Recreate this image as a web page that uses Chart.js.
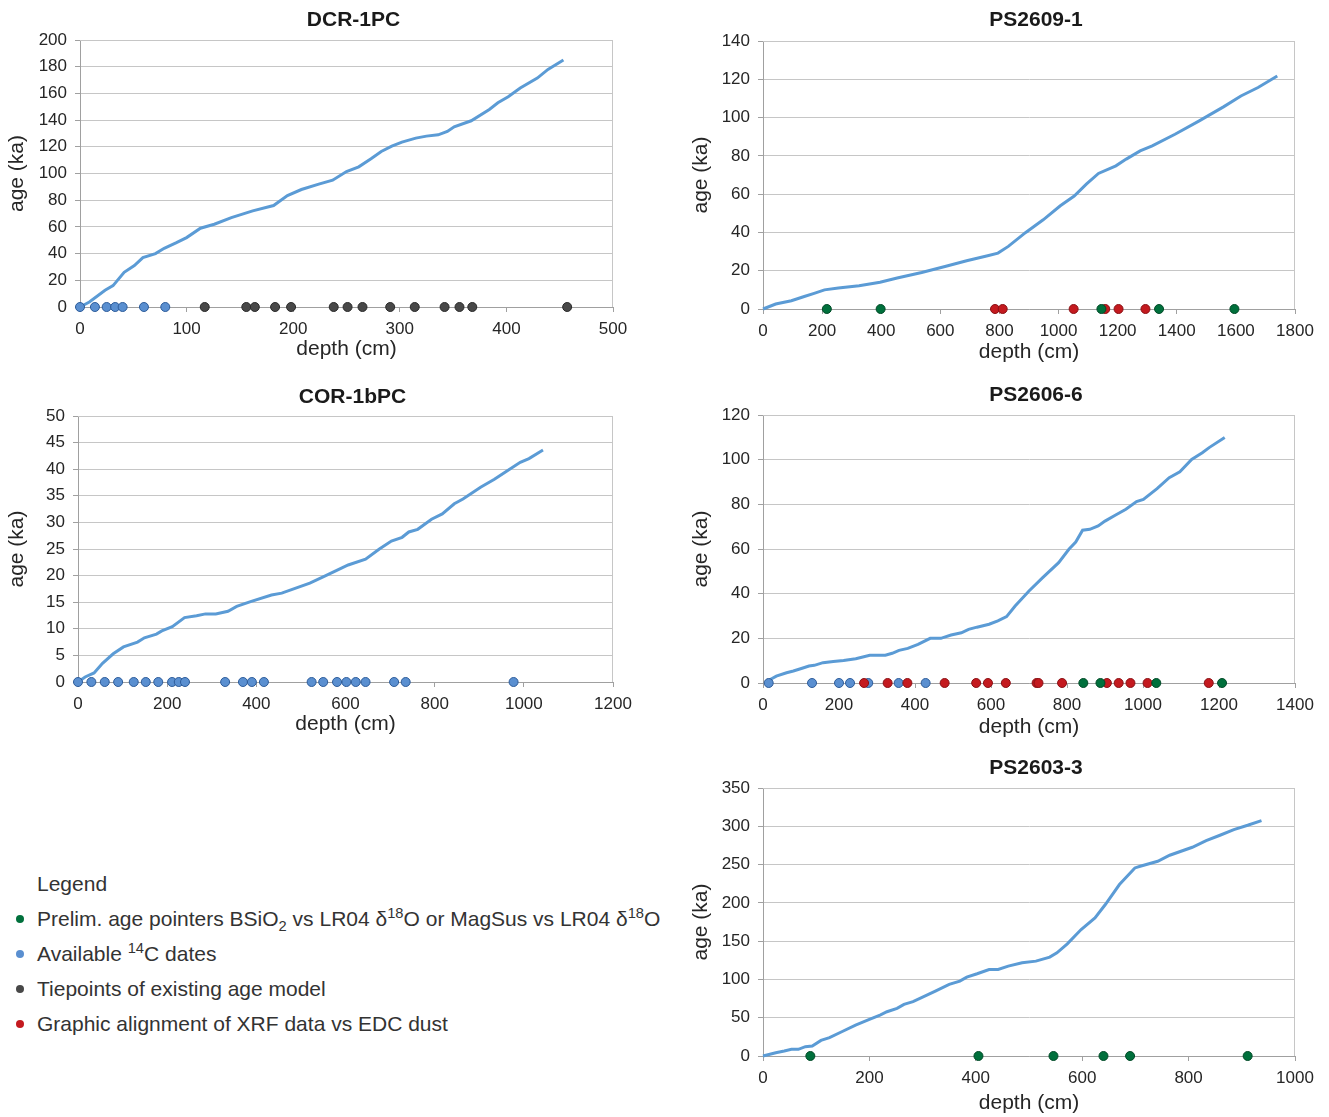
<!DOCTYPE html>
<html>
<head>
<meta charset="utf-8">
<script src="https://cdn.jsdelivr.net/npm/chart.js@4/dist/chart.umd.min.js"></script>
<style>
html,body{margin:0;padding:0;background:#fff;overflow:hidden;width:1329px;height:1117px;}
canvas{position:absolute;}
.lg{position:absolute;font-family:"Liberation Sans",Arial,sans-serif;font-size:21px;line-height:24px;color:#333;white-space:nowrap;}
.lg sub,.lg sup{font-size:0.7em;line-height:0;}
.dot{position:absolute;width:8px;height:8px;border-radius:50%;}
</style>
</head>
<body>
<canvas id="c1"></canvas>
<canvas id="c2"></canvas>
<canvas id="c3"></canvas>
<canvas id="c4"></canvas>
<canvas id="c5"></canvas>

<div class="lg" style="left:37px;top:872px;">Legend</div>
<div class="dot" style="left:16px;top:915px;background:#00703c;"></div>
<div class="lg" style="left:37px;top:907px;">Prelim. age pointers BSiO<sub>2</sub> vs LR04 δ<sup>18</sup>O or MagSus vs LR04 δ<sup>18</sup>O</div>
<div class="dot" style="left:16px;top:950px;background:#5a8fd0;"></div>
<div class="lg" style="left:37px;top:942px;">Available <sup>14</sup>C dates</div>
<div class="dot" style="left:16px;top:985px;background:#484848;"></div>
<div class="lg" style="left:37px;top:977px;">Tiepoints of existing age model</div>
<div class="dot" style="left:16px;top:1020px;background:#c41a1f;"></div>
<div class="lg" style="left:37px;top:1012px;">Graphic alignment of XRF data vs EDC dust</div>

<script>
// ---------- DATA ----------
// DCR-1PC
const dcrDepth = [0,8.8,23.5,31,41.4,51,59,70.8,79,90,100,113,126,142,162,181.6,194.6,207.7,224,237,250,261.5,273,282.6,292.5,302,315,325,336,344.6,351,367,384,392,401.7,413,429,439,453.5];
const dcrAge   = [0,3.7,12.5,16,26,31,37,40,44,48,52,59,62,67,72,76,83.5,88,92,95,101.5,105,111,116.5,120.5,123.5,126.5,128,129,131.5,135,139.5,148,153,157.5,164,171.5,178,185];
const dcrC14   = [0,14,25,33,40,60,80];
const dcrTie   = [117,156,164,183,198,238,251,265,291,314,342,356,368,457];

// PS2609-1
const ps2609Depth = [0,43,96,137,173,208,255,325,396,454,537,619,689,760,795,830,889,948,1006,1053,1094,1135,1194,1229,1276,1317,1394,1476,1511,1558,1617,1675,1740];
const ps2609Age   = [0,2.6,4.3,6.4,8.2,10,11,12.2,14,16.2,19.1,22.3,25.2,27.8,29.2,32.7,40,46.6,53.9,59,65.2,70.8,74.8,78.3,82.6,85.2,91.3,98.3,101.4,105.6,111.3,115.7,121.7];
const ps2609Green = [216,398,1145,1340,1595];
const ps2609Red   = [785,811,1051,1158,1203,1294];

// COR-1bPC
const corDepth = [0,16,36,55,79,102,133.5,149,176,188,211.5,239,266,286,309,336.5,356,387,434,457,520,551,578,606,645,676,703,727,742,762,793,817,844,863.5,903,934,957,992,1011.5,1043];
const corAge   = [0,0.94,1.7,3.5,5.3,6.6,7.5,8.3,9,9.6,10.4,12.1,12.45,12.8,12.8,13.3,14.2,15.1,16.35,16.7,18.6,19.8,20.9,22,23.1,25,26.5,27.2,28.2,28.7,30.6,31.6,33.5,34.4,36.6,38.1,39.4,41.3,42,43.6];
const corC14   = [0,30,60,90,125,152,180,211,226,240,330,370,390,417,524,550,581,602,623,645,709,735,977];

// PS2606-6
const ps2606Depth = [12,35,62,80,103,121,135,158,185,212,244,281,322,340,358,381,408,440,468,495,522,541,563,595,618,641,663.5,700,736,778,805,823,841,860,882,900,928,955,983,1001,1037,1069,1097,1128,1156,1174,1215];
const ps2606Age   = [0.9,3.1,4.6,5.4,6.6,7.6,7.9,9.1,9.6,10.1,10.9,12.4,12.4,13.3,14.6,15.5,17.3,20,20,21.5,22.5,24,25,26.3,27.8,29.7,34.5,41.2,47.2,53.9,59.9,63.1,68.4,68.8,70.3,72.5,75.2,77.8,81.2,82.2,87,91.9,94.6,100.1,103.1,105.4,109.9];
const ps2606C14   = [15,129,200,229,277,357,428];
const ps2606Red   = [266,328,380,478,561,592,639,720,725,787,905,936,967,1012,1173];
const ps2606Green = [843,888,1035,1208];

// PS2603-3
const ps2603Depth = [0,24,40,53.5,66.5,79.6,92.6,109,125,148,174,200,220,233,252,265,282,298,324,350,370,383,402.5,425,442,461,487,513,539,552.5,572,598,624,643.5,670,699,709,742,764.5,807,833,859,885,911,937];
const ps2603Age   = [0,4.3,6.5,8.7,8.7,12.2,13,20.4,23.9,31.7,40.4,47.8,53.5,57.8,62.2,67.4,70.9,76.1,84.8,93.5,97.8,103,107.4,113,113,117.4,121.7,123.9,129.1,134.8,146.5,165.2,180.4,197.8,223.9,245.6,247.8,254.3,262.2,272.6,281.3,288.3,295.7,301.3,307.4];
const ps2603Green = [89,405,546,640,690,911];

// ---------- STYLE ----------
const FONT = '"Liberation Sans", Arial, sans-serif';
const TXT = '#262626';
const GRID = '#c6c6c6';
const AXIS = '#a0a0a0';
const LINE = '#5b9bd5';
const TITLE_SIZE = 21, AXT_SIZE = 21, TICK_SIZE = 17, LH = 1.2;
const HALF = TITLE_SIZE * LH / 2;
const TITLE_SHIFT = 7;
const MARK = {
  blue:  {bg:'#5a8fd0', bd:'#2d5c9a'},
  gray:  {bg:'#484848', bd:'#2a2a2a'},
  red:   {bg:'#c41a1f', bd:'#8a1014'},
  green: {bg:'#00703c', bd:'#004a27'}
};

const frameBorder = {
  id:'frameBorder',
  afterLayout(chart){
    const t = chart.titleBlock;
    if (t) { t.left += TITLE_SHIFT; t.right += TITLE_SHIFT; }
  },
  beforeDatasetsDraw(chart){
    const a = chart.chartArea, ctx = chart.ctx;
    ctx.save();
    ctx.strokeStyle = GRID; ctx.lineWidth = 1;
    const r = Math.round(a.right) - 0.5, t = Math.round(a.top) + 0.5;
    ctx.beginPath();
    ctx.moveTo(Math.round(a.left), t); ctx.lineTo(r, t);
    ctx.lineTo(r, Math.round(a.bottom));
    ctx.stroke();
    ctx.restore();
  }
};

function pts(depths){ return depths.map(d => ({x:d, y:0})); }
function curve(depths, ages){ return depths.map((d,i) => ({x:d, y:ages[i]})); }
function markerSet(depths, col){
  return {data:pts(depths), pointRadius:4.5, pointHoverRadius:4.5, pointBackgroundColor:col.bg,
          pointBorderColor:col.bd, pointBorderWidth:1, showLine:false, clip:false};
}
function lineSet(depths, ages){
  return {data:curve(depths, ages), showLine:true, borderColor:LINE, borderWidth:3,
          pointRadius:0, tension:0, clip:false};
}

function makeChart(id, box, title, xMax, xStep, yMax, yStep, datasets){
  const left = Math.round(box.yTitleCX - HALF - 3);
  const top = Math.round(box.titleCY - HALF - 3);
  const bottom = Math.round(box.xTitleCY + HALF + 2);
  const padR = 30;
  const width = box.R + padR - left;
  const height = bottom - top;
  const cv = document.getElementById(id);
  cv.style.left = left + 'px'; cv.style.top = top + 'px';
  cv.width = width; cv.height = height;
  const titlePadTop = box.titleCY - HALF - top;
  const titlePadBottom = box.T - top - titlePadTop - 2 * HALF;
  new Chart(cv, {
    type:'scatter',
    data:{datasets},
    plugins:[frameBorder],
    options:{
      responsive:false, animation:false, events:[],
      layout:{padding:{left:0, right:padR, top:0, bottom:0}},
      plugins:{
        legend:{display:false}, tooltip:{enabled:false},
        title:{display:true, text:title, fullSize:false, color:'#1a1a1a',
               font:{family:FONT, size:TITLE_SIZE, weight:'bold', lineHeight:LH},
               padding:{top:titlePadTop, bottom:titlePadBottom}}
      },
      scales:{
        x:{type:'linear', min:0, max:xMax,
           afterFit(s){ s.height = bottom - box.B; },
           ticks:{stepSize:xStep, color:TXT, font:{family:FONT, size:TICK_SIZE}, padding:7,
                  maxRotation:0, callback:v => String(v)},
           grid:{drawOnChartArea:false, drawTicks:true, tickLength:5, tickColor:AXIS},
           border:{color:AXIS, width:1},
           title:{display:true, text:'depth (cm)', color:TXT,
                  font:{family:FONT, size:AXT_SIZE, lineHeight:LH}, padding:{top:0, bottom:2}}},
        y:{type:'linear', min:0, max:yMax,
           afterFit(s){ s.width = box.L - left; },
           ticks:{stepSize:yStep, color:TXT, font:{family:FONT, size:TICK_SIZE}, padding:8,
                  callback:v => String(v)},
           grid:{color:GRID, drawTicks:true, tickLength:5, tickColor:AXIS},
           border:{color:AXIS, width:1},
           title:{display:true, text:'age (ka)', color:TXT,
                  font:{family:FONT, size:AXT_SIZE, lineHeight:LH}, padding:{top:3, bottom:0}}}
      }
    }
  });
}

makeChart('c1', {L:80, R:613, T:40, B:307, titleCY:20, xTitleCY:349, yTitleCX:18},
  'DCR-1PC', 500, 100, 200, 20,
  [markerSet(dcrC14, MARK.blue), markerSet(dcrTie, MARK.gray), lineSet(dcrDepth, dcrAge)]);

makeChart('c2', {L:763, R:1295, T:41, B:309, titleCY:20, xTitleCY:352, yTitleCX:702},
  'PS2609-1', 1800, 200, 140, 20,
  [markerSet(ps2609Green, MARK.green), markerSet(ps2609Red, MARK.red), lineSet(ps2609Depth, ps2609Age)]);

makeChart('c3', {L:78, R:613, T:416, B:682, titleCY:397, xTitleCY:724, yTitleCX:18},
  'COR-1bPC', 1200, 200, 50, 5,
  [markerSet(corC14, MARK.blue), lineSet(corDepth, corAge)]);

makeChart('c4', {L:763, R:1295, T:415, B:683, titleCY:395, xTitleCY:727, yTitleCX:702},
  'PS2606-6', 1400, 200, 120, 20,
  [markerSet(ps2606Green, MARK.green), markerSet(ps2606Red, MARK.red), markerSet(ps2606C14, MARK.blue), lineSet(ps2606Depth, ps2606Age)]);

makeChart('c5', {L:763, R:1295, T:788, B:1056, titleCY:768, xTitleCY:1103, yTitleCX:702},
  'PS2603-3', 1000, 200, 350, 50,
  [markerSet(ps2603Green, MARK.green), lineSet(ps2603Depth, ps2603Age)]);
</script>
</body>
</html>
